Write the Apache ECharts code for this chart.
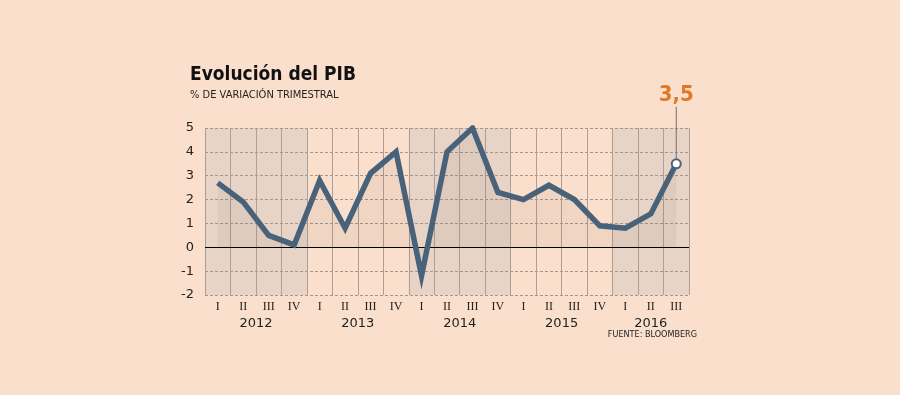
<!DOCTYPE html>
<html>
<head>
<meta charset="utf-8">
<script src="https://cdn.jsdelivr.net/npm/echarts@6/dist/echarts.min.js"></script>
<style>
html,body{margin:0;padding:0;background:#fadfcc;}
#c{width:900px;height:395px;}
</style>
</head>
<body>
<div id="c"></div>
<script>
const quarters = ['I','II','III','IV','I','II','III','IV','I','II','III','IV','I','II','III','IV','I','II','III'];
const values = [2.7,1.9,0.5,0.1, 2.8,0.8,3.1,4.0, -1.2,4.0,5.0,2.3, 2.0,2.6,2.0,0.9, 0.8,1.4,3.5];
const years = ['2012','2013','2014','2015','2016'];
const yearStart = [0,4,8,12,16];
const yearEnd = [3,7,11,15,18];
const yearShaded = [true,false,true,false,true];
const yTicks = [-2,-1,0,1,2,3,4,5];
const lastLabel = '3,5';

const cats = quarters.map((q,i)=>i);
const bandData = years.map((y,i)=>[yearStart[i], yearEnd[i], y, yearShaded[i]?1:0]);
const lastIdx = values.length-1;

const chart = echarts.init(document.getElementById('c'));
const fuente = {type:'text', right:203, top:330, style:{text:'FUENTE: BLOOMBERG', fontFamily:'DejaVu Sans Condensed', fontSize:9, fill:'#222'}};
chart.setOption({
  backgroundColor:'#fadfcc',
  animation:false,
  title:{
    text:'Evolución del PIB',
    subtext:'% DE VARIACIÓN TRIMESTRAL',
    left:190, top:66, padding:0, itemGap:5,
    textStyle:{fontFamily:'DejaVu Sans Condensed', fontWeight:'bold', fontSize:19, color:'#111'},
    subtextStyle:{fontFamily:'DejaVu Sans Condensed', fontSize:11, color:'#222'}
  },
  grid:{left:205, right:211, top:128, bottom:100, containLabel:false},
  xAxis:{
    type:'category', data:cats, boundaryGap:true,
    axisLine:{show:false}, axisTick:{show:false},
    axisLabel:{formatter:(v,i)=>quarters[i], fontFamily:'Liberation Serif', fontSize:12, color:'#222', margin:6, interval:0},
    splitLine:{show:true, interval:0, lineStyle:{color:'#ad9f97', width:1}}
  },
  yAxis:{
    type:'value', min:yTicks[0], max:yTicks[yTicks.length-1], interval:1,
    axisLine:{show:false}, axisTick:{show:false},
    axisLabel:{fontFamily:'DejaVu Sans', fontSize:13, color:'#222', margin:11},
    splitLine:{show:true, lineStyle:{color:'#a3968e', type:[3,2], width:1}}
  },
  series:[
    {
      type:'custom', z:-1, silent:true, clip:false,
      data:bandData,
      renderItem:(params, api)=>{
        const cs = params.coordSys;
        const w = api.size([1,0])[0];
        const x0 = api.coord([api.value(0),0])[0]-w/2;
        const x1 = api.coord([api.value(1),0])[0]+w/2;
        const children = [];
        if (api.value(3)) {
          children.push({type:'rect', shape:{x:x0, y:cs.y, width:x1-x0, height:cs.height}, style:{fill:'#e7d4c7'}});
        }
        children.push({type:'text', style:{text:bandData[params.dataIndex][2], x:(x0+x1)/2, y:cs.y+cs.height+29, align:'center', verticalAlign:'middle', fontFamily:'DejaVu Sans', fontSize:13, fill:'#222'}});
        return {type:'group', children};
      }
    },
    {
      type:'line', data:values, z:5,
      symbol:'circle',
      symbolSize:(v,p)=> p.dataIndex===lastIdx ? 9 : 0,
      showSymbol:true,
      itemStyle:{color:'#fff', borderColor:'#48627a', borderWidth:2},
      lineStyle:{color:'#48627a', width:5.5, join:'miter'},
      areaStyle:{color:'rgba(70,45,30,0.07)', origin:0},
      markLine:{
        silent:true, symbol:'none', label:{show:false},
        lineStyle:{color:'#000', type:'solid', width:1},
        data:[{yAxis:0}]
      }
    }
  ],
  graphic:[fuente]
});

const p = chart.convertToPixel({seriesIndex:1}, [lastIdx, values[lastIdx]]);
chart.setOption({
  graphic:[
    fuente,
    {type:'line', z:1, shape:{x1:p[0], y1:p[1]-5, x2:p[0], y2:p[1]-57}, style:{stroke:'#7a6c64', lineWidth:1}},
    {type:'text', z:10, x:p[0], y:p[1]-58, style:{text:lastLabel, align:'center', verticalAlign:'bottom', fontFamily:'DejaVu Sans Condensed', fontWeight:'bold', fontSize:22, fill:'#e07a22'}}
  ]
});
</script>
</body>
</html>
